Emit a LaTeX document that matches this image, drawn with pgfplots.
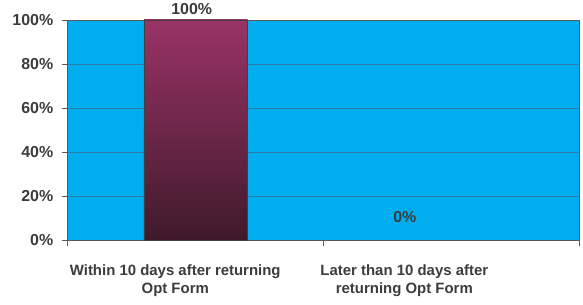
\documentclass[border=0pt]{standalone}
\usepackage{pgfplots}
\pgfplotsset{compat=1.18}
\usepackage{fontspec}
\setmainfont{Liberation Sans}
\definecolor{bgcyan}{HTML}{00AEEF}
\definecolor{gridc}{HTML}{2A7FA5}
\definecolor{bartop}{HTML}{993366}
\definecolor{barbot}{HTML}{3F1A2B}
\definecolor{txt}{HTML}{3C3C3C}
\begin{document}
\begin{tikzpicture}
\begin{axis}[
  scale only axis, width=514pt, height=221pt,
  xmin=-0.5, xmax=1.5, ymin=0, ymax=100,
  axis background/.style={fill=bgcyan},
  axis line style={draw=gray!70!black, line width=0.8pt},
  ytick={0,20,40,60,80,100},
  yticklabels={0\%,20\%,40\%,60\%,80\%,100\%},
  ymajorgrids, grid style={gridc, line width=0.8pt},
  ytick pos=left, xtick pos=bottom, tick align=outside,
  major tick length=6pt,
  tick style={draw=gray!70!black, line width=0.8pt},
  yticklabel style={font=\bfseries\fontsize{16}{18}\selectfont, text=txt, xshift=-5pt},
  xtick={-0.08,0.815},
  xticklabels={{Within 10 days after returning\\Opt Form},{Later than 10 days after\\returning Opt Form}},
  xticklabel style={font=\bfseries\fontsize{15}{18}\selectfont, text=txt, align=center, yshift=-15pt},
  major x tick style={draw=none},
  extra x ticks={-0.5,0.5,1.5}, extra x tick labels={},
  extra x tick style={major x tick style={draw=gray!70!black, line width=0.8pt}, xmajorgrids=false},
  clip=false,
]
\addplot[ybar, bar width=104pt, bar shift=0pt, draw=darkgray, line width=0.6pt,
  top color=bartop, bottom color=barbot,
  nodes near coords={\pgfmathprintnumber[assume math mode=true]{\pgfplotspointmeta}\%},
  every node near coord/.append style={font=\bfseries\fontsize{16}{18}\selectfont, text=txt, yshift=1.5pt, xshift=-4pt}]
  coordinates {(0,100)};
\addplot[ybar, bar width=104pt, bar shift=0pt, draw=none, fill=none,
  nodes near coords={\pgfmathprintnumber[assume math mode=true]{\pgfplotspointmeta}\%},
  every node near coord/.append style={font=\bfseries\fontsize{16}{18}\selectfont, text=txt, xshift=-47pt, yshift=14pt}]
  coordinates {(1,0)};
\end{axis}
\path ([shift={(-68pt,-65pt)}]current axis.south west) rectangle ([shift={(1pt,20pt)}]current axis.north east);
\end{tikzpicture}
\end{document}
